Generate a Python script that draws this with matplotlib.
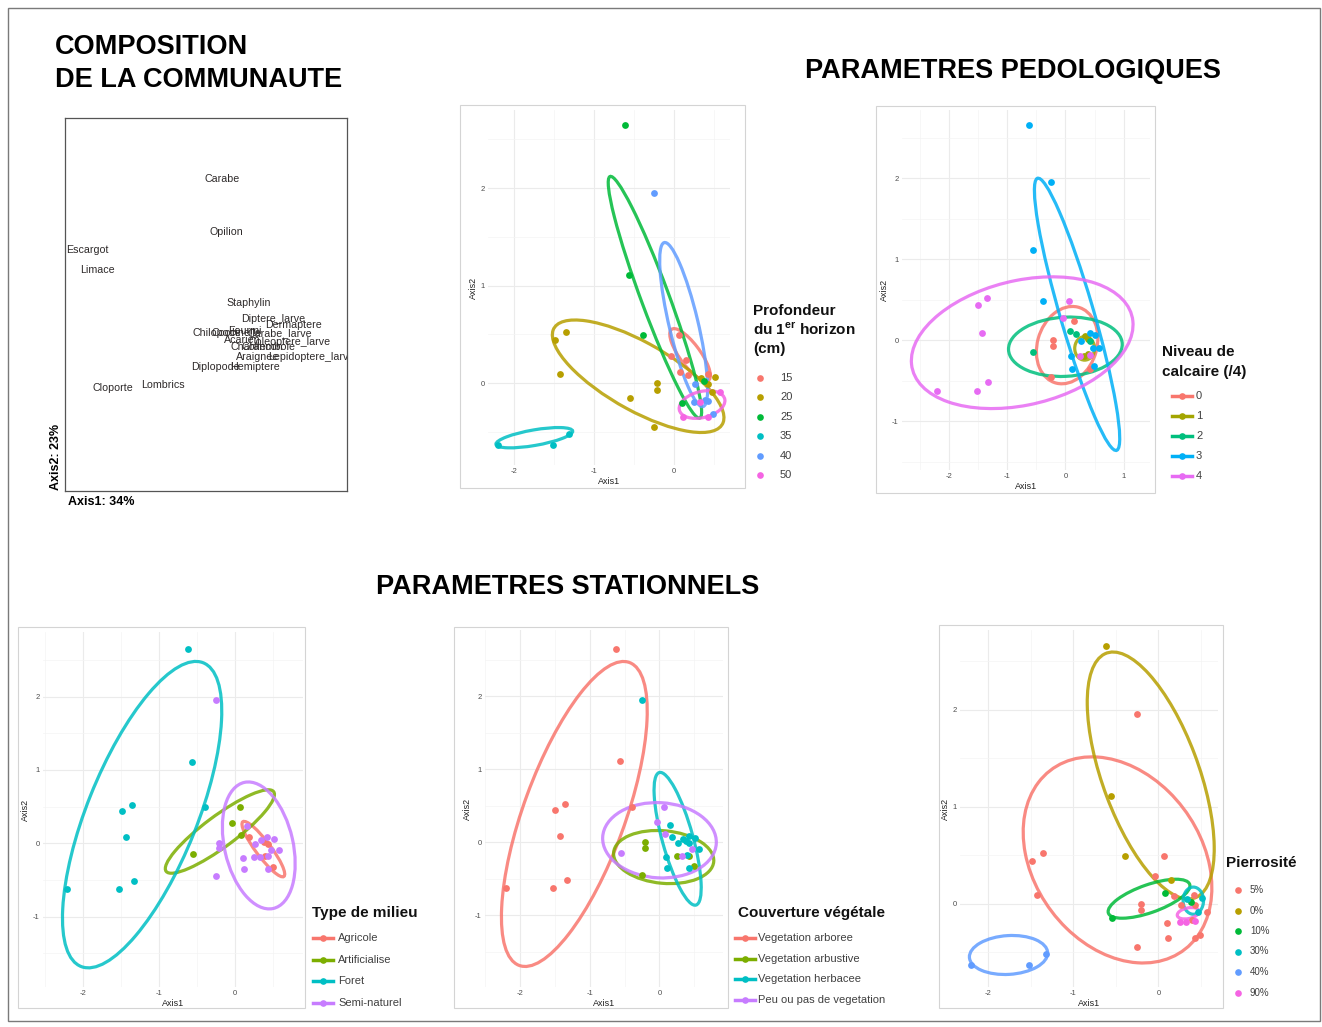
import numpy as np
import matplotlib.pyplot as plt
from matplotlib.patches import Ellipse, Rectangle
from matplotlib.lines import Line2D
from matplotlib.ticker import MultipleLocator

plt.rcParams["font.family"] = ["Liberation Sans", "DejaVu Sans"]
plt.rcParams["mathtext.fontset"] = "custom"
plt.rcParams["mathtext.rm"] = "Liberation Sans"
plt.rcParams["mathtext.bf"] = "Liberation Sans:bold"
plt.rcParams["axes.unicode_minus"] = False

W, H = 1322, 1027

# ---- site scores (shared by the five ellipse panels) ----
axis1 = [-0.62, -0.56, -0.39, -1.35, -1.49, -1.43, -1.32, -1.52, -2.20,
         0.06, -0.04, 0.08, -0.55,
         -0.25, -0.21, -0.21, -0.25, 0.15, 0.10, 0.11, 0.26, 0.34, 0.42, 0.51,
         0.25, 0.32, 0.43, 0.47, 0.57, 0.43,
         0.18, 0.38, 0.43, 0.39, 0.49]
axis2 = [2.65, 1.11, 0.49, 0.52, 0.44, 0.09, -0.52, -0.63, -0.63,
         0.49, 0.28, 0.11, -0.15,
         1.95, 0.00, -0.07, -0.45, 0.24, -0.20, -0.35, -0.01, 0.05, 0.09, 0.06,
         -0.19, -0.19, -0.18, -0.09, -0.09, -0.35,
         0.08, 0.02, -0.01, -0.17, -0.32]

# ---- groupings ----
profondeur_levels = ["15", "20", "25", "35", "40", "50"]
profondeur = ["25", "25", "25", "20", "20", "20", "35", "35", "35",
              "15", "15", "15", "20",
              "40", "20", "20", "20", "15", "25", "50", "40", "20", "15", "20",
              "40", "50", "40", "20", "50", "50",
              "15", "25", "20", "40", "40"]

calcaire_levels = ["0", "1", "2", "3", "4"]
calcaire = ["3", "3", "3", "4", "4", "4", "4", "4", "4",
            "4", "4", "2", "2",
            "3", "0", "0", "0", "0", "3", "3", "3", "1", "3", "3",
            "4", "1", "4", "3", "3", "0",
            "2", "1", "2", "1", "3"]

milieu_levels = ["Agricole", "Artificialise", "Foret", "Semi-naturel"]
milieu = ["Foret"] * 9 + ["Artificialise"] * 4 + ["Semi-naturel"] * 17 + ["Agricole"] * 5

couverture_levels = ["Vegetation arboree", "Vegetation arbustive",
                     "Vegetation herbacee", "Peu ou pas de vegetation"]
couverture = ["Vegetation arboree"] * 9 + ["Peu ou pas de vegetation"] * 4 + [
    "Vegetation herbacee", "Vegetation arbustive", "Vegetation arbustive",
    "Vegetation arbustive", "Vegetation herbacee", "Vegetation herbacee",
    "Vegetation herbacee", "Vegetation herbacee", "Vegetation herbacee",
    "Vegetation herbacee", "Vegetation herbacee",
    "Vegetation arbustive", "Peu ou pas de vegetation", "Vegetation arbustive",
    "Peu ou pas de vegetation", "Vegetation herbacee", "Vegetation herbacee",
    "Vegetation herbacee", "Vegetation herbacee", "Vegetation herbacee",
    "Vegetation herbacee", "Vegetation arbustive"]

pierro_levels = ["5%", "0%", "10%", "30%", "40%", "90%"]
pierrosite = ["0%", "0%", "0%", "5%", "5%", "5%", "40%", "40%", "40%",
              "5%", "5%", "10%", "10%",
              "5%", "5%", "5%", "5%", "0%", "5%", "5%", "5%", "30%", "5%", "30%",
              "90%", "90%", "90%", "30%", "5%", "5%",
              "5%", "10%", "5%", "5%", "5%"]

# ---- ellipses: (cx, cy, width, height, angle) ----
profondeur_ell = {
    "15": (0.20, 0.29, 0.70, 0.24, -47),
    "20": (-0.45, 0.07, 2.33, 0.72, -24),
    "25": (-0.24, 0.88, 2.72, 0.34, -65.5),
    "35": (-1.75, -0.56, 0.97, 0.16, 8),
    "40": (0.12, 0.60, 1.75, 0.36, -73.7),
    "50": (0.35, -0.22, 0.58, 0.27, 10),
}
calcaire_ell = {
    "0": (0.03, -0.06, 1.10, 0.90, 30),
    "1": (0.33, -0.10, 0.34, 0.29, 0),
    "2": (0.00, -0.08, 1.95, 0.73, 2),
    "3": (0.20, 0.32, 3.62, 0.56, -67.8),
    "4": (-0.74, -0.03, 3.83, 1.55, 8),
}
milieu_ell = {
    "Agricole": (0.37, -0.08, 0.92, 0.20, -54.3),
    "Artificialise": (-0.20, 0.16, 1.78, 0.42, 37.7),
    "Foret": (-1.22, 0.39, 4.44, 1.45, 69.0),
    "Semi-naturel": (0.31, -0.03, 1.76, 0.90, -77.8),
}
couverture_ell = {
    "Vegetation arboree": (-1.22, 0.39, 4.44, 1.45, 69.0),
    "Vegetation arbustive": (0.06, -0.20, 1.44, 0.72, -5),
    "Vegetation herbacee": (0.26, 0.05, 1.89, 0.44, -73.8),
    "Peu ou pas de vegetation": (0.00, 0.03, 1.63, 1.03, -3),
}
pierro_ell = {
    "5%": (-0.48, 0.45, 2.45, 1.85, -40.6),
    "0%": (-0.09, 1.32, 2.73, 1.12, -66.7),
    "10%": (-0.11, 0.05, 1.00, 0.29, 16.9),
    "30%": (0.41, 0.03, 0.24, 0.28, 0),
    "40%": (-1.76, -0.53, 0.92, 0.40, 3),
    "90%": (0.35, -0.10, 0.26, 0.11, 10),
}

# ---- species scores (community panel) ----
species = ["Carabe", "Opilion", "Escargot", "Limace", "Staphylin", "Diptere_larve",
           "Dermaptere", "Chilopode", "Coccinelle", "Fourmi", "Carabe_larve",
           "Acarien", "Coleoptere_larve", "Charancon", "Collembole", "Araignee",
           "Lepidoptere_larve", "Diplopode", "Hemiptere", "Cloporte", "Lombrics"]
sp_x = [-0.33, -0.28, -1.76, -1.65, -0.05, 0.22, 0.43, -0.39, -0.18, -0.09, 0.29,
        -0.11, 0.39, 0.04, 0.16, 0.05, 0.62, -0.40, 0.02, -1.49, -0.96]
sp_y = [0.93, 0.43, 0.26, 0.07, -0.24, -0.39, -0.44, -0.52, -0.52, -0.50, -0.52,
        -0.58, -0.60, -0.65, -0.65, -0.74, -0.74, -0.84, -0.84, -1.03, -1.005]

hue6 = ["#F8766D", "#B79F00", "#00BA38", "#00BFC4", "#619CFF", "#F564E3"]
hue5 = ["#F8766D", "#A3A500", "#00BF7D", "#00B0F6", "#E76BF3"]
hue4 = ["#F8766D", "#7CAE00", "#00BFC4", "#C77CFF"]


def fx(x):
    return x / W


def fy(y):
    return 1 - y / H


def fig_rect(x0, y0, x1, y1):
    return [x0 / W, 1 - y1 / H, (x1 - x0) / W, (y1 - y0) / H]


fig = plt.figure(figsize=(W / 100, H / 100), dpi=100)


def box(x0, y0, x1, y1, color="#d4d4d4", lw=0.8):
    fig.add_artist(Rectangle((fx(x0), fy(y1)), (x1 - x0) / W, (y1 - y0) / H,
                             transform=fig.transFigure, fill=False, ec=color, lw=lw))


def ellipse_panel(rect, xlim, ylim, groups, levels, colors, ellipses):
    ax = fig.add_axes(fig_rect(*rect))
    x = np.array(axis1)
    y = np.array(axis2)
    g = np.array(groups)
    for lev, col in zip(levels, colors):
        m = g == lev
        cx, cy, w, h, ang = ellipses[lev]
        ax.add_patch(Ellipse((cx, cy), w, h, angle=ang, fill=False, ec=col,
                             lw=2.3, alpha=0.85, zorder=2))
        ax.scatter(x[m], y[m], s=24, color=col, lw=0, zorder=3)
    ax.set_xlim(xlim)
    ax.set_ylim(ylim)
    ax.xaxis.set_major_locator(MultipleLocator(1))
    ax.yaxis.set_major_locator(MultipleLocator(1))
    ax.xaxis.set_minor_locator(MultipleLocator(0.5))
    ax.yaxis.set_minor_locator(MultipleLocator(0.5))
    ax.grid(which="major", color="#ebebeb", lw=0.8)
    ax.grid(which="minor", color="#f4f4f4", lw=0.5)
    ax.set_axisbelow(True)
    ax.tick_params(which="both", length=0, labelsize=5.5, labelcolor="#4d4d4d", pad=2.5)
    for s in ax.spines.values():
        s.set_visible(False)
    ax.set_xlabel("Axis1", fontsize=6.5, color="#222222", labelpad=1)
    ax.set_ylabel("Axis2", fontsize=6.5, color="#222222", labelpad=2)
    return ax


def legend(title_lines, title_ys, x_title, labels, colors, y0, dy,
           x_key, x_text, line_key, fs=8):
    for line, ty in zip(title_lines, title_ys):
        fig.text(fx(x_title), fy(ty), line, ha="left", va="center",
                 fontsize=11, fontweight="bold", color="#111111")
    for i, (lab, col) in enumerate(zip(labels, colors)):
        yy = fy(y0 + i * dy)
        if line_key:
            fig.add_artist(Line2D([fx(x_key - 10), fx(x_key + 10)], [yy, yy],
                                  color=col, lw=2.5, transform=fig.transFigure))
        fig.add_artist(Line2D([fx(x_key)], [yy], marker="o", ms=4.8, color=col,
                              mec="none", transform=fig.transFigure))
        fig.text(fx(x_text), yy, lab, ha="left", va="center", fontsize=fs, color="#404040")


# ---- titles ----
fig.text(fx(55), fy(47), "COMPOSITION", fontsize=19.5, fontweight="bold", va="center")
fig.text(fx(55), fy(80), "DE LA COMMUNAUTE", fontsize=19.5, fontweight="bold", va="center")
fig.text(fx(805), fy(71), "PARAMETRES PEDOLOGIQUES", fontsize=19.5, fontweight="bold", va="center")
fig.text(fx(376), fy(587), "PARAMETRES STATIONNELS", fontsize=19.5, fontweight="bold", va="center")

# ---- community biplot ----
ax0 = fig.add_axes(fig_rect(65, 118, 347, 491))
for name, sx, sy in zip(species, sp_x, sp_y):
    ax0.text(sx, sy, name, ha="center", va="center", fontsize=7.7,
             color="#2e2a2a", clip_on=True)
ax0.set_xlim(-2, 1)
ax0.set_ylim(-2, 1.5)
ax0.set_xticks([])
ax0.set_yticks([])
for s in ax0.spines.values():
    s.set_color("#555555")
    s.set_linewidth(0.9)
fig.text(fx(56), fy(457), "Axis2: 23%", rotation=90, ha="center", va="center",
         fontsize=9, fontweight="bold")
fig.text(fx(68), fy(502), "Axis1: 34%", ha="left", va="center", fontsize=9, fontweight="bold")

# ---- soil panels ----
box(460, 105, 745, 488)
ellipse_panel((488, 110, 730, 465), (-2.33, 0.70), (-0.84, 2.80),
              profondeur, profondeur_levels, hue6, profondeur_ell)
legend(["Profondeur", r"du 1$^{\mathbf{er}}$ horizon", "(cm)"], [310.7, 330, 349.3], 753,
       profondeur_levels, hue6, 377.7, 19.5, 760, 780, False)

box(876, 106, 1155, 493)
ellipse_panel((902, 110, 1150, 470), (-2.80, 1.45), (-1.60, 2.84),
              calcaire, calcaire_levels, hue5, calcaire_ell)
legend(["Niveau de", "calcaire (/4)"], [351.7, 371.7], 1162.5,
       calcaire_levels, hue5, 396, 20, 1181.5, 1196, True)

# ---- site panels ----
box(18, 627, 305, 1008)
ellipse_panel((43, 632, 303, 987), (-2.52, 0.89), (-1.96, 2.88),
              milieu, milieu_levels, hue4, milieu_ell)
legend(["Type de milieu"], [912.7], 312, milieu_levels, hue4, 938, 21.6, 323, 338, True)

box(454, 627, 728, 1008)
ellipse_panel((485, 630, 723, 987), (-2.50, 0.91), (-1.98, 2.91),
              couverture, couverture_levels, hue4, couverture_ell)
legend(["Couverture végétale"], [912.7], 738, couverture_levels, hue4, 937.7, 20.8,
       745, 758, True)

box(939, 625, 1223, 1008)
ellipse_panel((960, 630, 1218, 987), (-2.33, 0.70), (-0.86, 2.82),
              pierrosite, pierro_levels, hue6, pierro_ell)
legend(["Pierrosité"], [862.7], 1226, pierro_levels, hue6, 890, 20.5, 1238, 1250, False, fs=7)

# outer frame
box(8, 8, 1320, 1021, color="#7a7a7a", lw=1.0)

fig.savefig("out.png", dpi=100)
